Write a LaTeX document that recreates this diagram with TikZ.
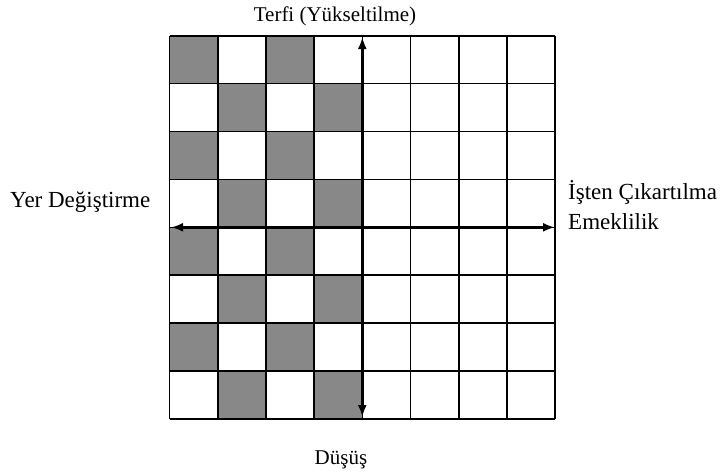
\documentclass[tikz,border=0pt]{standalone}
\usepackage{fontspec}
\setmainfont{Liberation Serif}
\usetikzlibrary{arrows.meta}
\definecolor{shadegray}{HTML}{888888}
\begin{document}
\begin{tikzpicture}[x=1pt,y=-1pt,
  lbl/.style={font=\fontsize{21}{30}\selectfont, inner sep=0pt},
  sidelbl/.style={font=\fontsize{23}{30}\selectfont, inner sep=0pt},
  cellshade/.style={fill=shadegray},
  gridline/.style={line width=1.6pt, black},
  axis/.style={line width=3pt, {Latex[length=12pt,width=9pt]}-{Latex[length=12pt,width=9pt]}}]
\useasboundingbox (0,0) rectangle (723,475);
\def\gx{169.5}\def\gy{35.7}\def\cw{48.2}\def\ch{47.9}
% shaded cells
\foreach \r in {0,...,7}{
  \foreach \c in {0,1,2,3}{
    \pgfmathtruncatemacro{\cellpar}{mod(\r+\c,2)}
    \ifnum\cellpar=0
      \fill[cellshade] ({\gx+\c*\cw},{\gy+\r*\ch}) rectangle ++(\cw,\ch);
    \fi
  }
}
% grid
\foreach \i in {0,...,8}{
  \draw[gridline] ({\gx+\i*\cw},\gy) -- ({\gx+\i*\cw},{\gy+8*\ch});
  \draw[gridline] (\gx,{\gy+\i*\ch}) -- ({\gx+8*\cw},{\gy+\i*\ch});
}
% axes
\coordinate (top) at ({\gx+4*\cw},37);
\coordinate (bottom) at ({\gx+4*\cw},417);
\coordinate (left) at (171,{\gy+4*\ch});
\coordinate (right) at (555,{\gy+4*\ch});
\draw[axis] (bottom) -- (top);
\draw[axis] (left) -- (right);
% labels
\node[lbl, anchor=base] (terfi) at (335,21) {Terfi (Yükseltilme)};
\node[sidelbl, anchor=base west] (yer) at (10,207.7) {Yer Değiştirme};
\node[sidelbl, anchor=base west] (isten) at (568,199) {İşten Çıkartılma};
\node[sidelbl, anchor=base west] (emek) at (568,229) {Emeklilik};
\node[lbl, anchor=base] (dusus) at (341,464) {Düşüş};
\end{tikzpicture}
\end{document}
